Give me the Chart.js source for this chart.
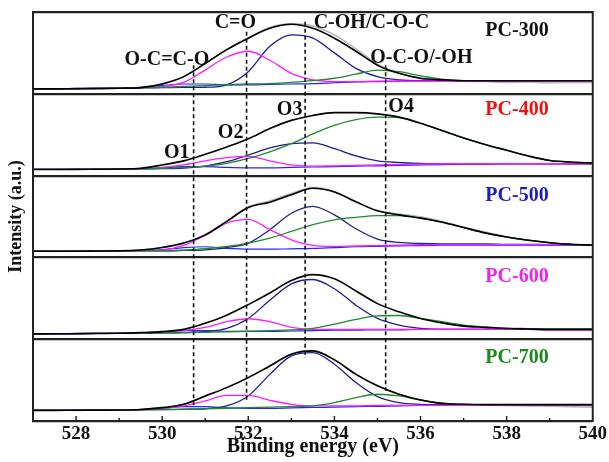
<!DOCTYPE html>
<html>
<head>
<meta charset="utf-8">
<script src="https://cdn.jsdelivr.net/npm/chart.js@4.4.1/dist/chart.umd.min.js"></script>
<style>
  html, body { margin: 0; padding: 0; background: #fff; }
</style>
</head>
<body>
<canvas id="xps" width="609" height="462"></canvas>
<script>
// binding energy grid (eV)
var energy = [527, 527.5, 528, 528.5, 529, 529.5, 530, 530.5, 531, 531.5, 532, 532.5, 533, 533.5,
              534, 534.5, 535, 535.5, 536, 536.5, 537, 537.5, 538, 538.5, 539, 539.5, 540];

// PC-300
var env300 = [6, 6, 6.3, 6.5, 6.8, 7.6, 12, 21, 37, 54, 68, 80, 85, 80, 68, 52, 35, 25, 19, 17, 16, 16, 16, 16, 16, 16, 16];
var raw300 = [6, 6.2, 6, 6.6, 6.7, 7.5, 12, 21, 37, 54, 68, 81, 85.5, 83, 72, 55, 36, 25, 18.5, 16.5, 15.5, 15, 14, 14.5, 13.5, 14, 14];
var o1_300 = [6, 6, 6.3, 6.5, 6.8, 7.5, 10, 12, 12, 11, 11, 11.5, 12, 12.5, 13.5, 14.5, 15, 15.5, 16, 16, 16, 16, 16, 16, 16, 16, 16];
var o2_300 = [6, 6, 6.3, 6.5, 7, 7.8, 9, 14, 29, 45, 52, 41, 25, 17, 15, 15, 15.5, 15.5, 15.5, 15.5, 15.5, 15.5, 15.5, 15.5, 15.5, 15.5, 15.5];
var o3_300 = [6, 6, 6.3, 6.5, 6.8, 7.3, 7.5, 7.8, 8, 11, 27, 58, 72, 68, 50, 31, 21, 17, 16, 16, 16, 16, 16, 16, 16, 16, 16];
var o4_300 = [6, 6.2, 6.5, 6.8, 7, 7.5, 8, 9, 10, 11, 12, 12.5, 14, 16, 19, 24, 29, 27, 22, 18, 16, 16, 16, 16, 16, 16, 16];

// PC-400
var env400 = [7.5, 7.5, 7.6, 7.8, 8, 9, 13, 18, 26, 35, 45, 57.5, 67.5, 73.5, 77, 77, 75.5, 71.5, 64, 55, 46, 38, 31, 24, 18.5, 16.5, 15.5];
var o1_400 = [7.5, 7.5, 7.6, 7.8, 8, 8.5, 9, 11, 11, 10, 9.5, 9.5, 10, 10.5, 11, 11.5, 12, 12.5, 13, 13.5, 14, 14, 14.5, 14.5, 14.5, 14.5, 14.5];
var o2_400 = [7.5, 7.5, 7.6, 7.8, 8, 8.5, 10, 13, 18, 22, 23.5, 18, 13, 11.5, 12, 12.5, 13, 13.5, 14, 14.5, 14.5, 14.5, 14.5, 14.5, 14.5, 14.5, 14.5];
var o3_400 = [7.5, 7.5, 7.6, 7.8, 8, 8.2, 8.5, 9.3, 11.7, 17, 25, 34, 39, 40, 33, 24, 18, 16, 15, 14.5, 14.5, 14.5, 14.5, 14.5, 14.5, 14.5, 14.5];
var o4_400 = [7.5, 7.5, 7.6, 7.8, 8, 8.5, 9, 10, 11.7, 15, 21, 29, 39, 51, 61.5, 68.5, 71.5, 71, 64, 55, 46, 38, 31, 24, 18.5, 16.5, 15.5];

// PC-500
var env500 = [7.5, 7.5, 7.6, 7.8, 8, 9, 12, 17.5, 27.5, 44, 61, 67.5, 76.5, 84.5, 80, 68, 57, 52, 48, 43, 36.5, 30, 25, 21, 18, 16, 15];
var raw500 = [7.5, 7.4, 7.7, 7.8, 8, 9, 12, 17.5, 27.5, 44, 61.5, 69, 78, 85.5, 80.5, 68, 57, 53, 49.5, 44, 37, 31, 25, 21, 18, 16, 15];
var o1_500 = [7.5, 7.5, 7.6, 7.8, 8, 8.5, 9.5, 12, 13, 11, 10, 10, 10.5, 11, 12, 13, 13.5, 14, 14.5, 15, 15, 15, 15, 15, 15, 15, 15];
var o2_500 = [7.5, 7.5, 7.6, 7.8, 8, 8.2, 9, 14.6, 27, 42, 46.5, 34, 21.5, 14.6, 13.4, 14, 14.5, 15, 15.5, 15.5, 15.5, 15.5, 15.5, 15.5, 15.5, 15.5, 15.5];
var o3_500 = [7.5, 7.5, 7.6, 7.8, 8, 8, 8, 8.5, 9.3, 12, 17.5, 33.7, 54, 62.5, 52, 35, 22.4, 18.3, 17, 16.5, 16.5, 16.5, 16, 16, 15.5, 15.5, 15];
var o4_500 = [7.5, 7.5, 7.6, 7.8, 7.8, 8, 8, 9, 10.6, 13.4, 17.5, 23.6, 31.7, 40, 46, 49, 51, 51, 48, 43, 36.5, 30, 25, 21, 18, 16, 15];

// PC-600
var env600 = [6.5, 6.6, 6.8, 7, 7.2, 8, 9.3, 12, 19.4, 29.4, 42.3, 56.5, 71.8, 79, 73.8, 59, 43.5, 33.5, 25.4, 20, 16, 14.5, 13, 12.5, 12, 12, 12];
var o1_600 = [6.5, 6.6, 6.8, 7, 7.2, 7.5, 8.5, 10.5, 10.5, 9.5, 9.5, 9.5, 10, 10.5, 11, 11, 11.5, 11.5, 12, 12, 12, 12, 12, 12, 12, 12, 12];
var o2_600 = [6.5, 6.6, 6.8, 7, 7.2, 7.8, 8.9, 10.5, 14.5, 21.4, 25, 21.4, 14.5, 12, 12, 12, 12, 12, 12, 12, 12, 12, 12, 12, 11.5, 11.5, 11.5];
var o3_600 = [6.5, 6.6, 6.8, 7, 7.2, 7.5, 7.7, 8, 9.3, 13.3, 25.4, 47.6, 67.7, 73, 61.7, 41.5, 25.4, 17.3, 13.3, 12, 12, 12, 12, 12, 11.5, 11.5, 11.5];
var o4_600 = [6.5, 6.6, 6.8, 7, 7.2, 7.3, 7.5, 8, 8.5, 9, 9.7, 10.5, 11.3, 13.3, 18.5, 24.2, 28.6, 29, 25.4, 21.4, 17.3, 15, 13.5, 13, 12.5, 12.5, 12.5];

// PC-700
var env700 = [13, 13, 13.2, 13.3, 13.4, 14, 16.3, 20.4, 30.6, 40.8, 53, 67.3, 81.6, 85.7, 74.7, 57, 43, 32.7, 25.7, 21.6, 20.4, 20, 20, 20, 20, 20, 20];
var raw700 = [13, 13.2, 13, 13.4, 13.3, 14, 16.3, 20.4, 30.6, 40.8, 53, 67.3, 82, 86, 75, 57.5, 43, 32.7, 25.7, 21.6, 20.2, 19.8, 19, 18.5, 18, 17.5, 17];
var o1_700 = [13, 13, 13.2, 13.3, 13.4, 14, 15.5, 17.5, 17.5, 16, 15.5, 15.5, 16, 16.5, 17, 17.5, 18, 18.5, 19, 19.5, 20, 20, 20, 20, 20, 20, 20];
var o2_700 = [13, 13, 13.2, 13.3, 13.5, 14, 15.5, 18.4, 24.5, 31.4, 31.4, 25.3, 20.4, 18.4, 18.4, 18.5, 19, 19, 19, 19, 19, 19, 19, 19, 19, 19, 19];
var o3_700 = [13, 13, 13.2, 13.3, 13.5, 13.8, 13.9, 14.3, 15, 18.4, 30.6, 57, 79.6, 83.7, 69.4, 47, 29.8, 22.4, 20.4, 20, 20, 20, 20, 20, 20, 20, 20];
var o4_700 = [13, 13, 13.2, 13.3, 13.4, 13.6, 14, 14.5, 15, 15.6, 16.3, 17, 17.6, 18.4, 22.4, 28.6, 32.7, 30.6, 25.7, 21.6, 20.4, 20, 20, 20, 20, 20, 20];

// reference lines O1..O4 (eV) and their extent on the stacked intensity axis
var dashEnergy = [530.73, 531.96, 533.32, 535.19];
var dashTop = [435, 476, 488, 435];
var dashBottom = [17, 23, 77, 37];

var xTickLabels = [528, 530, 532, 534, 536, 538, 540];

// one row per panel, bottom to top (each panel spans 100 units)
var panels = [
    { name: 'PC-700', color: '#1a8a1a', env: env700, raw: raw700, o1: o1_700, o2: o2_700, o3: o3_700, o4: o4_700 },
    { name: 'PC-600', color: '#ee22ee', env: env600, raw: null,   o1: o1_600, o2: o2_600, o3: o3_600, o4: o4_600 },
    { name: 'PC-500', color: '#1c1cc8', env: env500, raw: raw500, o1: o1_500, o2: o2_500, o3: o3_500, o4: o4_500 },
    { name: 'PC-400', color: '#ee1111', env: env400, raw: null,   o1: o1_400, o2: o2_400, o3: o3_400, o4: o4_400 },
    { name: 'PC-300', color: '#111111', env: env300, raw: raw300, o1: o1_300, o2: o2_300, o3: o3_300, o4: o4_300 }
];

// text placed in data space (eV, stacked intensity)
var notes = [
    { text: 'C=O', x: 531.70, y: 487 },
    { text: 'C-OH/C-O-C', x: 534.86, y: 487 },
    { text: 'O-C=C-O', x: 530.11, y: 441 },
    { text: 'O-C-O/-OH', x: 536.02, y: 444 },
    { text: 'O1', x: 530.34, y: 328 },
    { text: 'O2', x: 531.59, y: 352 },
    { text: 'O3', x: 532.96, y: 380 },
    { text: 'O4', x: 535.55, y: 384 }
];
var nameX = 538.24;
var nameY = [77, 176, 275, 380, 477];

function points(vals, offset) {
    return vals.map(function (v, i) { return { x: energy[i], y: v + offset }; });
}

function curve(vals, offset, color, width) {
    return {
        data: points(vals, offset),
        borderColor: color,
        borderWidth: width,
        pointRadius: 0,
        fill: false,
        cubicInterpolationMode: 'monotone'
    };
}

function buildDatasets() {
    var sets = [];
    // dashed guides on top
    for (var d = 0; d < dashEnergy.length; d++) {
        sets.push({
            data: [{ x: dashEnergy[d], y: dashTop[d] }, { x: dashEnergy[d], y: dashBottom[d] }],
            borderColor: '#111', borderWidth: 1.6, borderDash: [4, 3],
            pointRadius: 0, fill: false
        });
    }
    panels.forEach(function (p, k) { sets.push(curve(p.env, k * 100, '#000', 1.6)); });
    panels.forEach(function (p, k) { sets.push(curve(p.o4, k * 100, '#1f8a2a', 1.3)); });
    panels.forEach(function (p, k) { sets.push(curve(p.o2, k * 100, '#ff1aff', 1.3)); });
    panels.forEach(function (p, k) { sets.push(curve(p.o3, k * 100, '#1e1e8e', 1.3)); });
    panels.forEach(function (p, k) { sets.push(curve(p.o1, k * 100, '#2323ff', 1.2)); });
    panels.forEach(function (p, k) { if (p.raw) sets.push(curve(p.raw, k * 100, '#b4b4b4', 1.6)); });
    return sets;
}

var framePlugin = {
    id: 'frame',
    afterDatasetsDraw: function (chart) {
        var ctx = chart.ctx, a = chart.chartArea;
        var xs = chart.scales.x, ys = chart.scales.y;
        ctx.save();
        ctx.strokeStyle = '#222';
        ctx.lineWidth = 2;
        ctx.strokeRect(a.left, a.top, a.right - a.left, a.bottom - a.top);
        ctx.lineWidth = 1.5;
        for (var e = 528; e < 540; e++) {
            var px = xs.getPixelForValue(e);
            ctx.beginPath();
            ctx.moveTo(px, a.bottom);
            ctx.lineTo(px, a.bottom - (e % 2 ? 3 : 5));
            ctx.stroke();
        }
        ctx.font = 'bold 20px "Liberation Serif", "Times New Roman", serif';
        ctx.textAlign = 'center';
        ctx.textBaseline = 'middle';
        ctx.fillStyle = '#111';
        notes.forEach(function (n) {
            ctx.fillText(n.text, xs.getPixelForValue(n.x), ys.getPixelForValue(n.y));
        });
        panels.forEach(function (p, k) {
            ctx.fillStyle = p.color;
            ctx.fillText(p.name, xs.getPixelForValue(nameX), ys.getPixelForValue(nameY[k]));
        });
        ctx.restore();
    }
};

var serif = '"Liberation Serif", "Times New Roman", serif';

var xpsChart = new Chart(document.getElementById('xps').getContext('2d'), {
    type: 'line',
    data: { datasets: buildDatasets() },
    options: {
        responsive: false,
        animation: false,
        events: [],
        layout: { padding: { top: 12, right: 15, left: 0, bottom: 0 } },
        plugins: { legend: { display: false }, tooltip: { enabled: false } },
        scales: {
            x: {
                type: 'linear', min: 527, max: 540,
                grid: { display: false, drawTicks: false },
                border: { display: true, color: '#222', width: 2 },
                ticks: {
                    stepSize: 1, autoSkip: false, maxRotation: 0, padding: 2,
                    color: '#111',
                    font: { family: serif, size: 19, weight: 'bold' },
                    callback: function (v) { return xTickLabels.indexOf(v) >= 0 ? String(v) : ''; }
                },
                title: {
                    display: true, text: 'Binding energy (eV)', color: '#111',
                    font: { family: serif, size: 20, weight: 'bold' },
                    padding: { top: 0, bottom: 3 }
                },
                afterFit: function (axis) { axis.height = 41; }
            },
            y: {
                type: 'linear', min: 0, max: 500,
                grid: { color: '#222', lineWidth: 2.2, drawTicks: false },
                border: { display: true, color: '#222', width: 2 },
                ticks: { display: false, stepSize: 100 },
                title: {
                    display: true, text: 'Intensity (a.u.)', color: '#111',
                    font: { family: serif, size: 18, weight: 'bold' },
                    padding: { top: 6, bottom: 0 }
                },
                afterFit: function (axis) { axis.width = 33; }
            }
        }
    },
    plugins: [framePlugin]
});
</script>
</body>
</html>
